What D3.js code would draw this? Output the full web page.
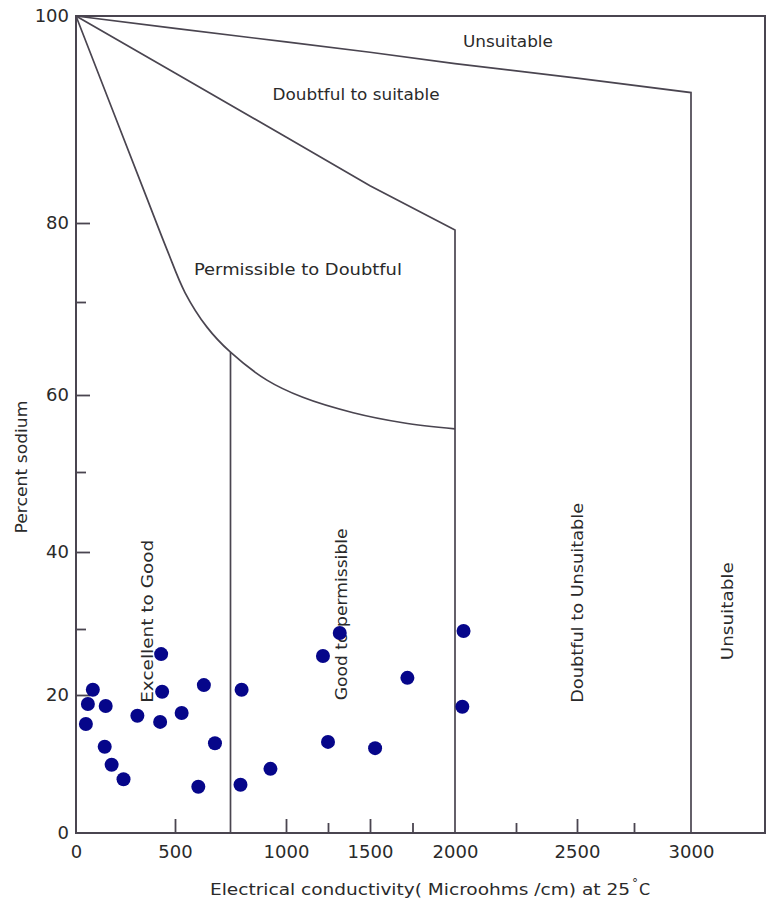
<!doctype html>
<meta charset="utf-8">
<head>
<script src="https://d3js.org/d3.v7.min.js"></script>
<style>
  body { margin: 0; background: #fff; }
  text { font-family: "DejaVu Sans", sans-serif; fill: #2a2a2a; }
</style>
</head>
<body>
<svg width="770" height="900"></svg>
<script>
    // samples: electrical conductivity (microohms/cm) and percent sodium
    let ecValues = [50, 60, 85, 150, 145, 180, 240, 310, 430, 435, 425, 530, 630,
                    680, 605, 800, 795, 930, 1220, 1320, 1250, 1530, 1720, 2035, 2030];
    let naValues = [15.8, 18.7, 20.8, 18.4, 12.5, 9.9, 7.8, 17.0, 26.2, 20.5, 16.1, 17.4, 21.5,
                    13.0, 6.7, 20.8, 7.0, 9.3, 25.9, 29.4, 13.2, 12.3, 22.6, 29.7, 18.3];

    // class boundaries (Wilcox), [ec, %Na]
    let unsuitableLine = [[0, 100], [500, 98.8], [1000, 97.5], [1500, 96.5], [2000, 95.4],
                          [2500, 94.0], [3000, 92.6], [3000, 0]];
    let doubtfulLine = [[0, 100], [500, 94.5], [1000, 88.3], [1500, 83.6], [2000, 79.1], [2000, 0]];
    let permissibleCurve = [[0, 100], [354, 82.6], [460, 76.6], [545, 71.2],
                            [644, 67.3], [750, 64.6], [914, 61.6], [1100, 59.7], [1400, 57.7],
                            [1694, 56.4], [2000, 55.6]];
    let excellentLine = [[750, 0], [750, 64.6]];

    let xMajor = [500, 1000, 1500, 2500];
    let xMinor = [1250, 1750, 2250, 2750];
    let xLabels = [0, 500, 1000, 1500, 2000, 2500, 3000];
    let yMajor = [20, 40, 60, 80];
    let yMinor = [30, 50, 70];
    let yLabels = [0, 20, 40, 60, 80, 100];

    let svg = d3.select("svg");
    let ink = "#4a4550";

    // the scanned diagram is not evenly spaced, so both scales are piecewise
    let x = d3.scaleLinear()
        .domain([0, 500, 1000, 1500, 2000, 2500, 3000, 3300])
        .range([76, 175, 286, 370, 455, 577, 691, 765]);
    let y = d3.scaleLinear()
        .domain([0, 20, 30, 40, 50, 60, 70, 80, 100])
        .range([833, 695, 629, 552, 472, 395, 302, 223, 16]);

    // frame
    svg.append("rect")
        .attr("x", x(0)).attr("y", y(100))
        .attr("width", x(3300) - x(0)).attr("height", y(0) - y(100))
        .attr("fill", "none").attr("stroke", ink).attr("stroke-width", 2);

    // ticks
    let ax = svg.append("g").attr("transform", `translate(0,${y(0)})`);
    ax.call(d3.axisBottom(x).tickValues(xMajor).tickSize(-14).tickFormat(""));
    ax.call(g => g.select(".domain").remove());
    let axm = svg.append("g").attr("transform", `translate(0,${y(0)})`);
    axm.call(d3.axisBottom(x).tickValues(xMinor).tickSize(-10).tickFormat(""));
    axm.call(g => g.select(".domain").remove());
    let axl = svg.append("g").attr("transform", `translate(0,${y(0)})`);
    axl.call(d3.axisBottom(x).tickValues(xLabels).tickSize(0).tickPadding(12).tickFormat(d3.format("d")));
    axl.call(g => g.select(".domain").remove());
    axl.selectAll("text").attr("font-size", 18).attr("font-family", "DejaVu Sans").attr("fill", "#2a2a2a");

    let ay = svg.append("g").attr("transform", `translate(${x(0)},0)`);
    ay.call(d3.axisLeft(y).tickValues(yMajor).tickSize(-14).tickFormat(""));
    ay.call(g => g.select(".domain").remove());
    let aym = svg.append("g").attr("transform", `translate(${x(0)},0)`);
    aym.call(d3.axisLeft(y).tickValues(yMinor).tickSize(-10).tickFormat(""));
    aym.call(g => g.select(".domain").remove());
    let ayl = svg.append("g").attr("transform", `translate(${x(0)},0)`);
    ayl.call(d3.axisLeft(y).tickValues(yLabels).tickSize(0).tickPadding(7));
    ayl.call(g => g.select(".domain").remove());
    ayl.selectAll("text").attr("font-size", 18).attr("font-family", "DejaVu Sans").attr("fill", "#2a2a2a");

    svg.selectAll(".tick line").attr("stroke", ink).attr("stroke-width", 1.8);

    // boundaries
    let line = d3.line().x(d => x(d[0])).y(d => y(d[1]));
    let smooth = d3.line().x(d => x(d[0])).y(d => y(d[1])).curve(d3.curveCatmullRom.alpha(0.5));
    [unsuitableLine, doubtfulLine, excellentLine].forEach(pts => {
        svg.append("path").attr("d", line(pts))
            .attr("fill", "none").attr("stroke", ink).attr("stroke-width", 1.7);
    });
    svg.append("path").attr("d", smooth(permissibleCurve))
        .attr("fill", "none").attr("stroke", ink).attr("stroke-width", 1.7);

    // zone names
    function label(txt, ec, na, len, rot) {
        let t = svg.append("text")
            .attr("font-size", 15)
            .attr("text-anchor", "middle")
            .attr("textLength", len)
            .attr("lengthAdjust", "spacingAndGlyphs")
            .text(txt);
        if (rot) {
            t.attr("transform", `translate(${x(ec)},${y(na)}) rotate(-90)`);
        } else {
            t.attr("x", x(ec)).attr("y", y(na));
        }
    }
    label("Unsuitable", 2217, 97.0, 90, false);
    label("Doubtful to suitable", 1417, 91.9, 167, false);
    label("Permissible to Doubtful", 1071, 73.4, 208, false);
    label("Excellent to Good", 389, 31.0, 163, true);
    label("Good to permissible", 1363, 31.9, 172, true);
    label("Doubtful to Unsuitable", 2526, 33.4, 200, true);
    label("Unsuitable", 3170, 32.3, 98, true);

    // axis titles
    svg.append("text")
        .attr("transform", "translate(27,467) rotate(-90)")
        .attr("text-anchor", "middle")
        .attr("font-size", 15)
        .attr("textLength", 133)
        .attr("lengthAdjust", "spacingAndGlyphs")
        .text("Percent sodium");
    let xt = svg.append("text")
        .attr("x", 210).attr("y", 895)
        .attr("font-size", 16);
    xt.append("tspan")
        .attr("textLength", 420)
        .attr("lengthAdjust", "spacingAndGlyphs")
        .text("Electrical conductivity( Microohms /cm) at 25");
    xt.append("tspan").attr("dy", -8).attr("dx", 2).attr("font-size", 12).text("°");
    xt.append("tspan").attr("dy", 8).attr("dx", 1).text("C");

    // samples
    svg.append("g").selectAll("circle")
        .data(ecValues.map((v, i) => [v, naValues[i]]))
        .enter().append("circle")
        .attr("cx", d => x(d[0]))
        .attr("cy", d => y(d[1]))
        .attr("r", 7)
        .attr("fill", "#06068a");
</script>
</body>
